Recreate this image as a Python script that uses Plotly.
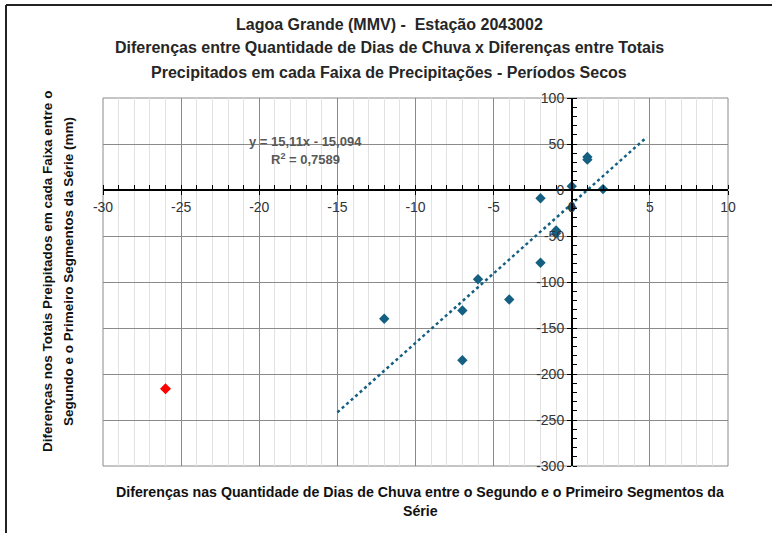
import plotly.graph_objects as go

# ---- data ----
x_blue = [1, 1, 0, 2, -2, 0, -1, -1, -2, -6, -4, -7, -12, -7]
y_blue = [36, 33, 4, 1, -9, -19, -44, -47, -79, -97, -119, -131, -140, -185]
x_red = [-26]
y_red = [-216]
trend_slope = 15.11
trend_intercept = -15.094
trend_x = [-15, 4.8]
trend_y = [trend_slope * v + trend_intercept for v in trend_x]
x_ticks = [-30, -25, -20, -15, -10, -5, 0, 5, 10]
y_ticks = [-300, -250, -200, -150, -100, -50, 0, 50, 100]

title_lines = [
    "Lagoa Grande (MMV) -  Estação 2043002",
    "Diferenças entre Quantidade de Dias de Chuva x Diferenças entre Totais",
    "Precipitados em cada Faixa de Precipitações - Períodos Secos",
]
x_title_lines = [
    "Diferenças nas Quantidade de Dias de Chuva entre o Segundo e o Primeiro Segmentos da",
    "Série",
]
y_title_lines = [
    "Diferenças nos Totais Preipitados em cada Faixa entre o",
    "Segundo e o Primeiro Segmentos da Série (mm)",
]
eq_lines = ["y = 15,11x - 15,094", "R<sup>2</sup> = 0,7589"]

BLUE = "#156082"
FONT = "Liberation Sans"

fig = go.Figure()
fig.add_trace(go.Scatter(x=trend_x, y=trend_y, mode="lines",
                         line=dict(color=BLUE, width=2.5, dash="dot"),
                         hoverinfo="skip", showlegend=False))
fig.add_trace(go.Scatter(x=x_blue, y=y_blue, mode="markers",
                         marker=dict(symbol="diamond", size=8, color=BLUE),
                         showlegend=False))
fig.add_trace(go.Scatter(x=x_red, y=y_red, mode="markers",
                         marker=dict(symbol="diamond", size=8.5, color="#FF0000"),
                         showlegend=False))

W, H = 772, 533
L, R, T, B = 103, 44, 98, 67
pw, ph = W - L - R, H - T - B

def px2x(p):
    return (p - L) / pw

def py2y(p):
    return (H - B - p) / ph

fig.update_layout(
    width=W, height=H,
    margin=dict(l=L, r=R, t=T, b=B, autoexpand=False),
    plot_bgcolor="white", paper_bgcolor="white",
    font=dict(family=FONT, color="#333333"),
    xaxis=dict(range=[-30, 10], tickvals=x_ticks, ticktext=[str(v) for v in x_ticks],
               anchor="free", position=0.75, side="bottom",
               showline=True, linecolor="black", linewidth=1.5,
               ticks="outside", ticklen=4, tickcolor="black", tickwidth=1.2,
               tickfont=dict(size=14, color="#333333"),
               showgrid=True, gridcolor="#8a8a8a", gridwidth=1,
               zeroline=False,
               minor=dict(dtick=1, showgrid=True, gridcolor="#e2e2e2", gridwidth=1,
                          ticks="inside", ticklen=4, tickcolor="black", tickwidth=1)),
    yaxis=dict(range=[-300, 100], tickvals=y_ticks, ticktext=[str(v) for v in y_ticks],
               anchor="free", position=0.75, side="left",
               showline=True, linecolor="black", linewidth=1.5,
               ticks="outside", ticklen=4, tickcolor="black", tickwidth=1.2,
               tickfont=dict(size=14, color="#333333"),
               showgrid=True, gridcolor="#8a8a8a", gridwidth=1,
               zeroline=False,
               minor=dict(dtick=10, showgrid=False,
                          ticks="inside", ticklen=4, tickcolor="black", tickwidth=1)),
)

shapes = [
    dict(type="rect", xref="paper", yref="paper", x0=0, x1=1, y0=0, y1=1,
         line=dict(color="#8a8a8a", width=1), layer="below"),
    dict(type="line", xref="paper", yref="paper", x0=px2x(6), x1=px2x(W + 20),
         y0=py2y(5), y1=py2y(5), line=dict(color="#222222", width=2)),
    dict(type="line", xref="paper", yref="paper", x0=px2x(6), x1=px2x(6),
         y0=py2y(5), y1=py2y(H + 20), line=dict(color="#222222", width=2)),
]
fig.update_layout(shapes=shapes)

ann = []
for txt, py in zip(title_lines, [24, 48, 72]):
    ann.append(dict(text="<b>%s</b>" % txt, xref="paper", yref="paper",
                    x=px2x(389), y=py2y(py), xanchor="center", yanchor="middle",
                    showarrow=False, font=dict(size=16, color="#262626", family=FONT)))
for txt, py in zip(x_title_lines, [492, 511]):
    ann.append(dict(text="<b>%s</b>" % txt, xref="paper", yref="paper",
                    x=px2x(420), y=py2y(py), xanchor="center", yanchor="middle",
                    showarrow=False, font=dict(size=14.2, color="#111111", family=FONT)))
for txt, px in zip(y_title_lines, [47, 68]):
    ann.append(dict(text="<b>%s</b>" % txt, xref="paper", yref="paper",
                    x=px2x(px), y=py2y(272), xanchor="center", yanchor="middle",
                    textangle=-90, showarrow=False,
                    font=dict(size=13.5, color="#111111", family=FONT)))
for txt, py in zip(eq_lines, [141, 159]):
    ann.append(dict(text="<b>%s</b>" % txt, xref="paper", yref="paper",
                    x=px2x(305), y=py2y(py), xanchor="center", yanchor="middle",
                    showarrow=False, font=dict(size=13, color="#595959", family=FONT)))
fig.update_layout(annotations=ann)

fig.write_html("out.html", config={"displayModeBar": False},
               post_script="document.body.style.margin='0px';document.body.style.padding='0px';")
